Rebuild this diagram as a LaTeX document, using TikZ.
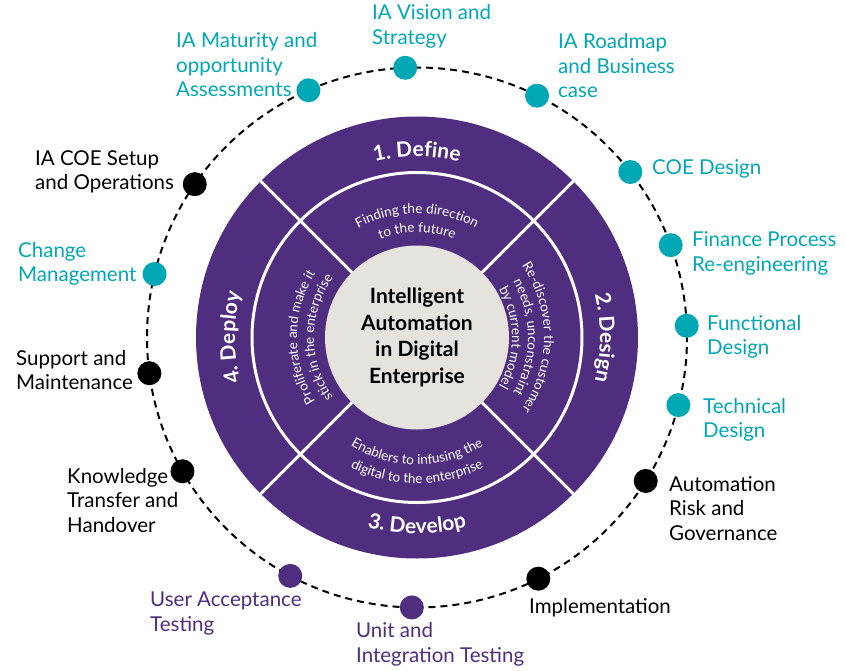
\documentclass[tikz,border=0pt]{standalone}
\usepackage{fontspec}
\setmainfont{Lato}
\usetikzlibrary{decorations.text}

\definecolor{gtpurple}{RGB}{79,45,127}
\definecolor{gtteal}{RGB}{0,167,181}
\definecolor{coregrey}{RGB}{230,227,223}

\newcommand{\phasefont}{\bfseries\fontsize{21}{25}\selectfont}
\newcommand{\notefont}{\fontsize{13.5}{16}\selectfont}

\tikzset{
  dot/.style={circle, fill=#1, minimum size=24pt, inner sep=0pt},
  lbl/.style={anchor=west, align=left, inner sep=0pt, text=#1, font=\fontsize{20.5}{24.5}\selectfont},
  ringtext/.style={decorate, decoration={text along path, text align=center, text color=white, text={#1}}},
}

\begin{document}
\begin{tikzpicture}[x=1pt, y=1pt]
  \useasboundingbox (-417,-332.5) rectangle (429,337.5);

  % Disco centrale e anelli
  \fill[gtpurple] (0,0) circle (221);
  \draw[white, line width=3pt] (0,0) circle (165);
  \foreach \a in {45,135,225,315}
    \draw[white, line width=3pt] (\a:90) -- (\a:223);
  \node[circle, fill=coregrey, minimum size=184pt, inner sep=0pt, align=center,
        font=\bfseries\fontsize{21}{26.5}\selectfont] (core) at (0,0) {Intelligent\\Automation\\in Digital\\Enterprise};

  % Fasi sull'anello esterno
  \path[ringtext={|\phasefont|1. Define}] (150:181) arc[start angle=150, end angle=30, radius=181];
  \path[ringtext={|\phasefont|2. Design}] (60:183) arc[start angle=60, end angle=-60, radius=183];
  \path[ringtext={|\phasefont|3. Develop}] (210:196) arc[start angle=210, end angle=330, radius=196];
  \path[ringtext={|\phasefont|4. Deploy}] (240:182) arc[start angle=240, end angle=120, radius=182];

  % Note sull'anello interno
  \path[ringtext={|\notefont|Finding the direction}] (150:124) arc[start angle=150, end angle=30, radius=124];
  \path[ringtext={|\notefont|to the future}] (150:105) arc[start angle=150, end angle=30, radius=105];
  \path[ringtext={|\notefont|Re-discover the customer}] (60:127) arc[start angle=60, end angle=-60, radius=127];
  \path[ringtext={|\notefont|needs, unconstraint}] (60:111) arc[start angle=60, end angle=-60, radius=111];
  \path[ringtext={|\notefont|by current model}] (60:95) arc[start angle=60, end angle=-60, radius=95];
  \path[ringtext={|\notefont|Enablers to infusing the}] (210:127) arc[start angle=210, end angle=330, radius=127];
  \path[ringtext={|\notefont|digital to the enterprise}] (210:146) arc[start angle=210, end angle=330, radius=146];
  \path[ringtext={|\notefont|Proliferate and make it}] (240:120) arc[start angle=240, end angle=120, radius=120];
  \path[ringtext={|\notefont|stick in the enterprise}] (240:103) arc[start angle=240, end angle=120, radius=103];

  % Cerchio tratteggiato
  \draw[line width=2pt, dash pattern=on 7pt off 5pt] (0,0) circle (270);

  % Tappe sul cerchio
  \node[dot=gtteal] (maturity) at (113.7:270) {};
  \node[dot=gtteal] (vision) at (92.5:270) {};
  \node[dot=gtteal] (roadmap) at (63.6:270) {};
  \node[dot=gtteal] (coedesign) at (37.8:270) {};
  \node[dot=gtteal] (finance) at (20:270) {};
  \node[dot=gtteal] (functional) at (2.5:270) {};
  \node[dot=gtteal] (technical) at (-14.5:270) {};
  \node[dot=black] (risk) at (-32.1:270) {};
  \node[dot=black] (implementation) at (-63.3:270) {};
  \node[dot=gtpurple] (unit) at (-91.1:270) {};
  \node[dot=gtpurple] (uat) at (-118:270) {};
  \node[dot=black] (knowledge) at (-150.3:270) {};
  \node[dot=black] (support) at (187.6:270) {};
  \node[dot=gtteal] (change) at (166.4:270) {};
  \node[dot=black] (coesetup) at (145.4:270) {};

  % Etichette delle tappe
  \node[lbl=gtteal] (maturity-l) at (-241,272.5) {IA Maturity and\\opportunity\\Assessments};
  \node[lbl=gtteal] (vision-l) at (-45,311) {IA Vision and\\Strategy};
  \node[lbl=gtteal] (roadmap-l) at (141,271.5) {IA Roadmap\\and Business\\case};
  \node[lbl=gtteal] (coedesign-l) at (235,168.5) {COE Design};
  \node[lbl=gtteal] (finance-l) at (275,84) {Finance Process\\Re-engineering};
  \node[lbl=gtteal] (functional-l) at (290,0.5) {Functional\\Design};
  \node[lbl=gtteal] (technical-l) at (286,-82.5) {Technical\\Design};
  \node[lbl=black] (risk-l) at (252,-171) {Automation\\Risk and\\Governance};
  \node[lbl=black] (implementation-l) at (112,-270.5) {Implementation};
  \node[lbl=gtpurple] (unit-l) at (-61,-307) {Unit and\\Integration Testing};
  \node[lbl=gtpurple] (uat-l) at (-267,-276) {User Acceptance\\Testing};
  \node[lbl=black] (knowledge-l) at (-350,-163) {Knowledge\\Transfer and\\Handover};
  \node[lbl=black] (support-l) at (-401,-32.5) {Support and\\Maintenance};
  \node[lbl=gtteal] (change-l) at (-399,73.5) {Change\\Management};
  \node[lbl=black] (coesetup-l) at (-382,165.5) {IA COE Setup\\and Operations};
\end{tikzpicture}
\end{document}
